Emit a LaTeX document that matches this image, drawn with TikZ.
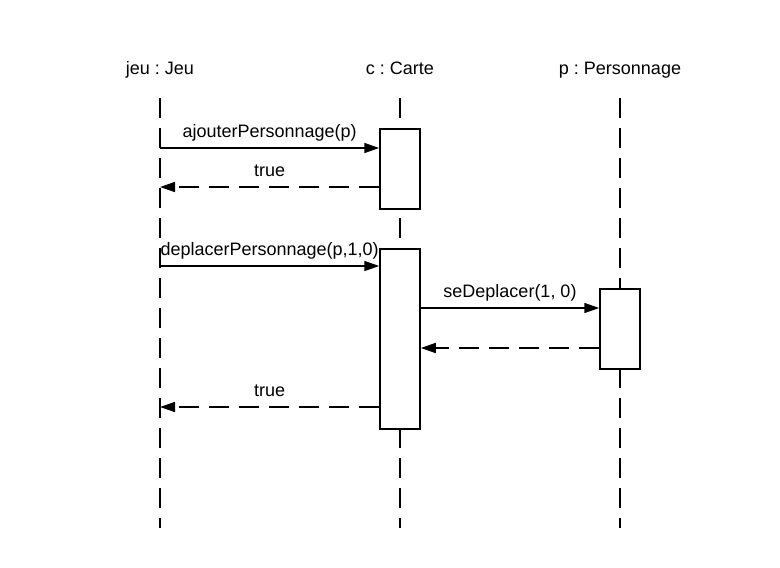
\documentclass[tikz,border=0pt]{standalone}
\usepackage{fontspec}
\setmainfont{Liberation Sans}
\usetikzlibrary{arrows.meta}
\frenchspacing

\tikzset{
  head/.style={font=\fontsize{18}{21}\selectfont, text height=13pt, text depth=4pt, inner sep=0pt},
  life/.style={line width=1.5pt, dash pattern=on 20pt off 10pt},
  activation/.style={draw, line width=1.5pt, fill=white, minimum width=40pt, inner sep=0pt, anchor=north},
  msg/.style={line width=1.5pt, -{Triangle[length=15pt,width=10pt]}},
  ret/.style={msg, dash pattern=on 20pt off 10pt},
  lbl/.style={font=\fontsize{18}{21}\selectfont, text height=13pt, text depth=4pt, inner sep=0pt, above=6pt}
}

\begin{document}
\begin{tikzpicture}[x=1pt, y=-1pt]
            \useasboundingbox (0,0) rectangle (780,568);

            \node[head] (jeu) at (160, 70) {jeu : Jeu};
            \node[head] (carte) at (400, 70) {c : Carte};
            \node[head] (perso) at (620, 70) {p : Personnage};

            % lifelines
            \coordinate (top) at (0, 98);
            \coordinate (bottom) at (0, 528);
            \draw[life] (jeu |- top) -- (jeu |- bottom);
            \draw[life] (carte |- top) -- (carte |- bottom);
            \draw[life] (perso |- top) -- (perso |- bottom);

            % activation boxes
            \node[activation, minimum height=80pt] (act1) at (400, 128) {};
            \node[activation, minimum height=180pt] (act2) at (400, 248) {};
            \node[activation, minimum height=80pt] (act3) at (620, 288) {};

            % messages
            \coordinate (m1) at (0, 148);
            \coordinate (m2) at (0, 187);
            \coordinate (m3) at (0, 266);
            \coordinate (m4) at (0, 308);
            \coordinate (m5) at (0, 348);
            \coordinate (m6) at (0, 407);

            \draw[msg] (jeu |- m1) -- node[lbl] {ajouterPersonnage(p)} (act1.west |- m1);
            \draw[ret] (act1.west |- m2) -- node[lbl] {true} (jeu |- m2);
            \draw[msg] (jeu |- m3) -- node[lbl] {deplacerPersonnage(p,1,0)} (act2.west |- m3);
            \draw[msg] (act2.east |- m4) -- node[lbl] {seDeplacer(1, 0)} (act3.west |- m4);
            \draw[ret] (act3.west |- m5) -- (act2.east |- m5);
            \draw[ret] (act2.west |- m6) -- node[lbl] {true} (jeu |- m6);

        \end{tikzpicture}
\end{document}
